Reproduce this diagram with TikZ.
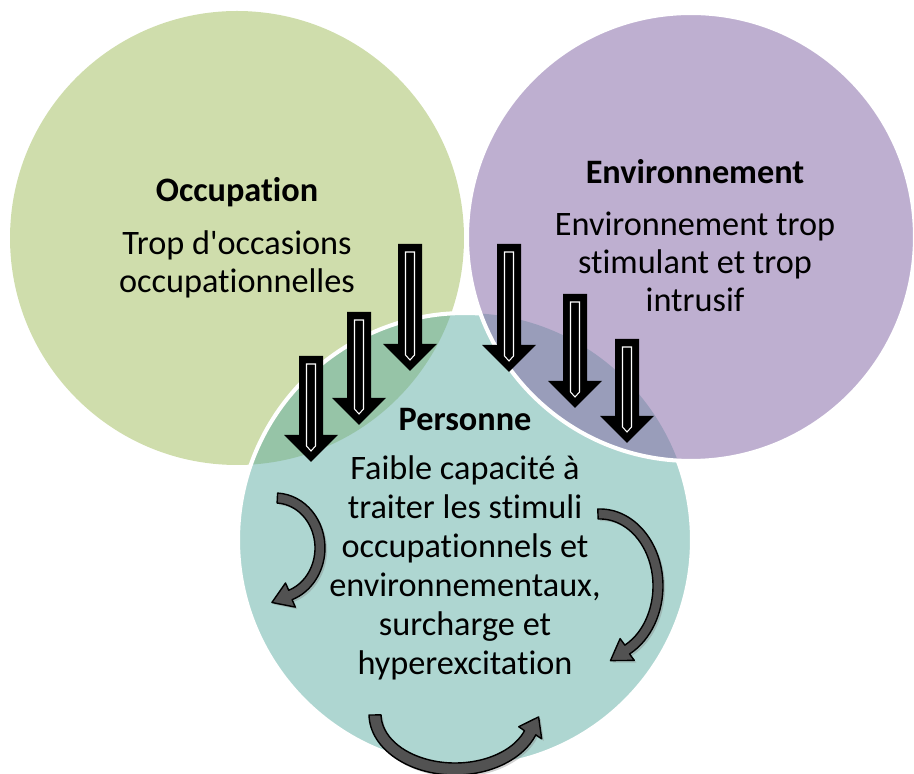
\documentclass[tikz,border=0pt]{standalone}
\usepackage{fontspec}
\setmainfont{Carlito}[Ligatures=NoCommon]
\usetikzlibrary{calc}
\usetikzlibrary{shadows}
\definecolor{occgreen}{HTML}{CFDDAC}
\definecolor{envpurple}{HTML}{BEAFD0}
\definecolor{perteal}{HTML}{AED6D1}
\definecolor{occper}{HTML}{96C4A7}
\definecolor{envper}{HTML}{999DBA}
\begin{document}
\begin{tikzpicture}[x=0.02cm,y=0.02cm,
  title/.style={font=\fontsize{19.5}{21.5}\selectfont\bfseries},
  body/.style={align=center,font=\fontsize{19.5}{21.5}\selectfont},
  loop arrow/.style={fill=black!68,draw=black,line width=0.8pt,line join=round,
    drop shadow={shadow xshift=1.2pt,shadow yshift=-1.2pt,opacity=0.35}},
  pics/downarrow/.style={code={
    \fill[black] (-12,0) -- (12,0) -- (12,27-#1) -- (27,27-#1) -- (0,-#1) -- (-27,27-#1) -- (-12,27-#1) -- cycle;
    \draw[white,line width=0.6pt] (-4.5,-8) -- (4.5,-8) -- (4.5,16-#1) -- (0,11-#1) -- (-4.5,16-#1) -- cycle;
  }}]
  \useasboundingbox (0,0) rectangle (914,774);
  \coordinate (occ) at (237,536);
  \coordinate (env) at (691,537);
  \coordinate (per) at (465,234);

  % circles
  \fill[occgreen] (occ) circle[radius=227];
  \fill[perteal] (per) circle[radius=227];
  \begin{scope}
    \clip (occ) circle[radius=227];
    \fill[occper] (per) circle[radius=227];
  \end{scope}
  \draw[white,line width=2.3pt] (per) circle[radius=227];
  \fill[envpurple] (env) circle[radius=224];
  \begin{scope}
    \clip (env) circle[radius=224];
    \fill[envper] (per) circle[radius=227];
  \end{scope}
  \draw[white,line width=2.3pt] (env) circle[radius=224];

  % texts
  \node[title] (occtitle) at (237,582) {Occupation};
  \node[body] (occtext) at (237,510) {Trop d\textquotesingle occasions\\occupationnelles};
  \node[title] (envtitle) at (695,602) {Environnement};
  \node[body] (envtext) at (695,512) {Environnement trop\\stimulant et trop\\intrusif};
  \node[title] (pertitle) at (465,354) {Personne};
  \node[body,font=\fontsize{19.5}{22.2}\selectfont] (pertext) at (465,206) {Faible capacit\'e \`a\\traiter les stimuli\\occupationnels et\\environnementaux,\\surcharge et\\hyperexcitation};

  % straight arrows
  \pic (ar1) at (311,418) {downarrow=106};
  \pic (ar2) at (359,462) {downarrow=113};
  \pic (ar3) at (410,530) {downarrow=127};
  \pic (ar4) at (509,530) {downarrow=128};
  \pic (ar5) at (575,480) {downarrow=114};
  \pic (ar6) at (627,435) {downarrow=104};

  % curved arrows
  \coordinate (lc) at (275,226);
  \coordinate (rc) at (600,188);
  \coordinate (bc) at (455,60);
  \draw[loop arrow] ($(lc)+(87:50 and 55)$) arc[start angle=87,end angle=-70,x radius=50,y radius=55]
    -- (295.3,166.9) -- (271.9,171.5) -- (285.5,191.0)
    -- ($(lc)+(-70:40 and 45)$) arc[start angle=-70,end angle=87,x radius=40,y radius=45] -- cycle;
  \draw[loop arrow] ($(rc)+(92:63 and 77)$) arc[start angle=92,end angle=-62,x radius=63,y radius=77]
    -- (634.3,113.6) -- (610.5,113.4) -- (620.1,135.4)
    -- ($(rc)+(-62:53 and 67)$) arc[start angle=-62,end angle=92,x radius=53,y radius=67] -- cycle;
  \draw[loop arrow] ($(bc)+(181:86 and 61)$) arc[start angle=181,end angle=340,x radius=86,y radius=61]
    -- (541.7,35.1) -- (538.6,57.1) -- (518.7,47.3)
    -- ($(bc)+(340:74 and 49)$) arc[start angle=340,end angle=181,x radius=74,y radius=49] -- cycle;
\end{tikzpicture}
\end{document}
